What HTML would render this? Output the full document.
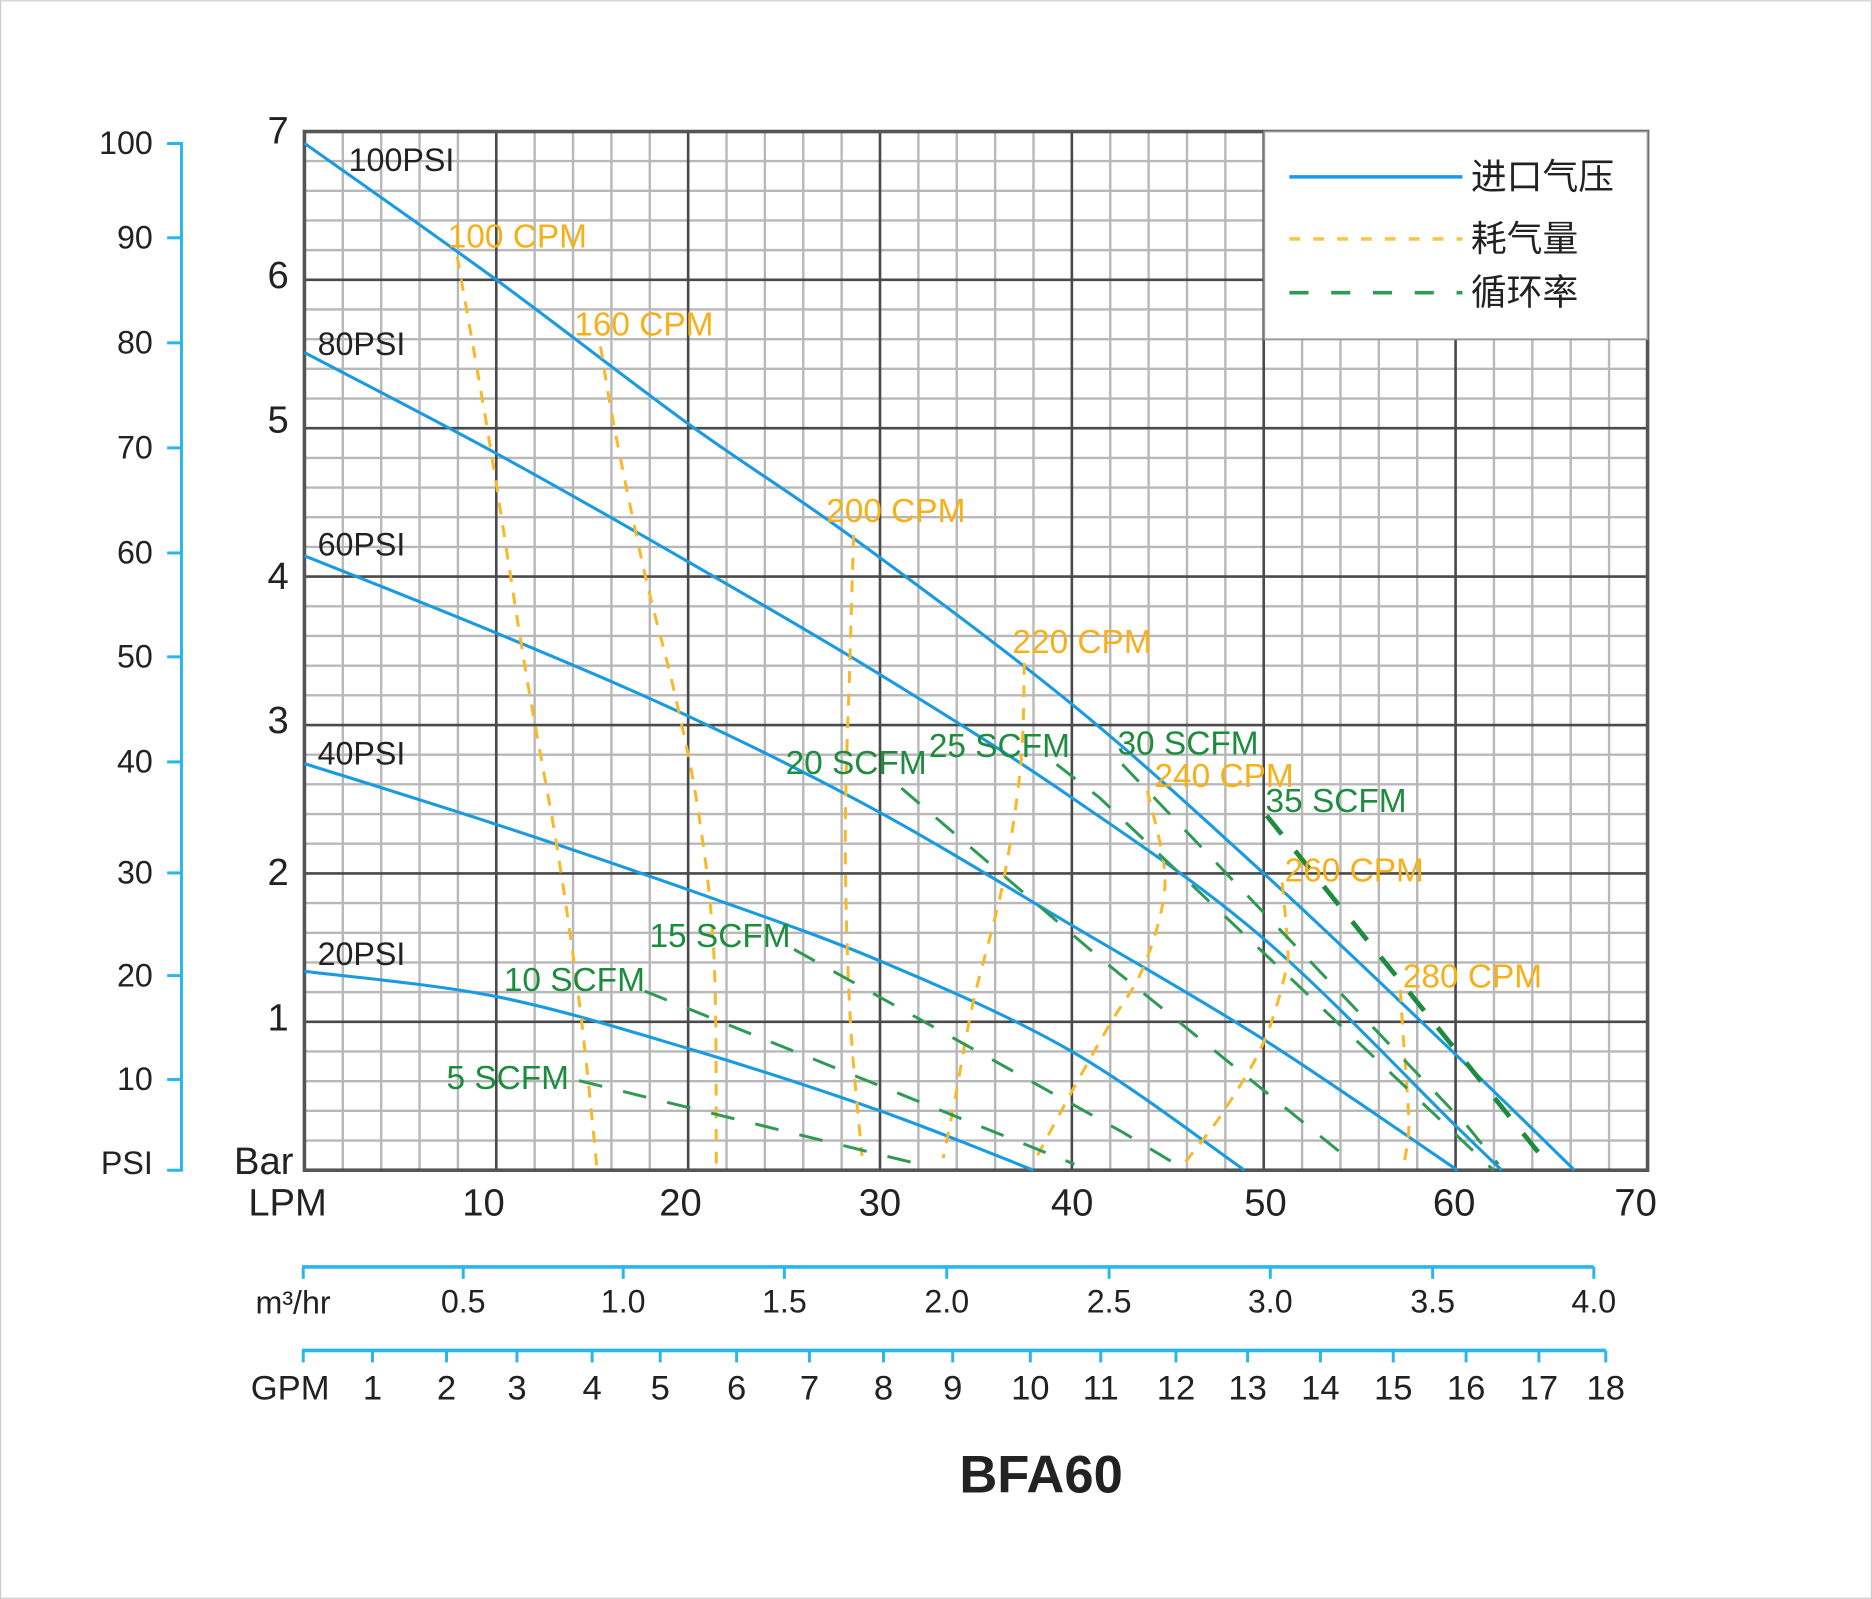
<!DOCTYPE html>
<html><head><meta charset="utf-8"><style>
html,body{margin:0;padding:0;background:#fff;}
svg{display:block;}
text{font-family:"Liberation Sans","Noto Sans CJK SC",sans-serif;}
</style></head><body>
<svg id="s" width="1872" height="1599" viewBox="0 0 1568 1339" xmlns="http://www.w3.org/2000/svg">
<rect x="0.5" y="0.5" width="1567" height="1338" fill="#fff" stroke="#ccc" stroke-width="1"/>
<g id="grid"></g>
<g id="curves" fill="none"></g>
<rect x="1059" y="110" width="321" height="174" fill="#fff" stroke="#999" stroke-width="1.5"/>
<line x1="1080" y1="148" x2="1225" y2="148" stroke="#1a9be0" stroke-width="3"/>
<line x1="1080" y1="200" x2="1225" y2="200" stroke="#f9c64a" stroke-width="3" stroke-dasharray="9,11"/>
<line x1="1080" y1="245" x2="1225" y2="245" stroke="#2e9a54" stroke-width="3" stroke-dasharray="16,19"/>
<g font-size="30" fill="#222">
<text x="1232" y="158">进口气压</text>
<text x="1232" y="210">耗气量</text>
<text x="1232" y="255">循环率</text>
</g>
<g id="labels"></g>
</svg>
<script>
var NS="http://www.w3.org/2000/svg";
function el(p,t,a,txt){var e=document.createElementNS(NS,t);for(var k in a)e.setAttribute(k,a[k]);if(txt!==undefined)e.textContent=txt;document.getElementById(p).appendChild(e);return e;}
var X0=255,XS=16.07,Y0=980,YS=124.3;
function X(l){return X0+l*XS}function Y(b){return Y0-b*YS}
// minor grid
for(var i=0;i<=35;i++){if(i%5)el('grid','line',{x1:X(i*2),y1:110,x2:X(i*2),y2:980,stroke:'#b8b8b8','stroke-width':2});}
for(var j=0;j<=35;j++){if(j%5)el('grid','line',{x1:255,y1:Y(j*0.2),x2:1380,y2:Y(j*0.2),stroke:'#b8b8b8','stroke-width':2});}
for(var i=1;i<7;i++)el('grid','line',{x1:X(i*10),y1:110,x2:X(i*10),y2:980,stroke:'#4a4a4a','stroke-width':2.2});
for(var j=1;j<7;j++)el('grid','line',{x1:255,y1:Y(j),x2:1380,y2:Y(j),stroke:'#4a4a4a','stroke-width':2.2});
el('grid','rect',{x:255,y:110,width:1125,height:870,fill:'none',stroke:'#555','stroke-width':3});
function pd(pts){return 'M'+pts.map(function(p){return p[0]+','+p[1]}).join(' L');}
function sm(pts){var s='M'+pts[0][0]+','+pts[0][1];for(var i=0;i<pts.length-1;i++){var p0=pts[i-1]||pts[i],p1=pts[i],p2=pts[i+1],p3=pts[i+2]||p2;s+=' C'+(p1[0]+(p2[0]-p0[0])/6)+','+(p1[1]+(p2[1]-p0[1])/6)+' '+(p2[0]-(p3[0]-p1[0])/6)+','+(p2[1]-(p3[1]-p1[1])/6)+' '+p2[0]+','+p2[1];}return s;}
function dc(a){return a.map(function(p){return [X(p[0]),Y(p[1])]})}
var blue=[
[[0,6.92],[10,6.0],[20,5.03],[28.6,4.26],[40,3.14],[50,2.0],[60,0.78],[66.2,0]],
[[0,5.51],[10,4.83],[20,4.1],[30,3.34],[40,2.51],[50,1.56],[60,0.3],[62.4,0]],
[[0,4.14],[10,3.62],[20,3.06],[30,2.41],[40,1.65],[50,0.88],[60.1,0]],
[[0,2.74],[10,2.33],[20,1.89],[30,1.41],[40,0.8],[49,0]],
[[0,1.34],[10,1.17],[20,0.82],[30,0.4],[38,0]]];
blue.forEach(function(b){el('curves','path',{d:sm(dc(b)),stroke:'#1a9be0','stroke-width':2.6});});
var org=[
[[383,215],[410,370],[440,560],[465,700],[480,800],[490,880],[500,978]],
[[503,290],[515,360],[540,480],[565,580],[585,680],[598,800],[600,978]],
[[715,448],[712,550],[708,700],[712,850],[722,968]],
[[858,555],[855,640],[840,740],[815,840],[800,920],[790,970]],
[[961,662],[975,725],[972,766],[955,816],[930,857],[900,910],[865,975]],
[[1074,739],[1078,786],[1077,813],[1058,874],[1024,932],[993,973]],
[[1173,829],[1175,863],[1178,904],[1180,945],[1176,975]]];
org.forEach(function(o){el('curves','path',{d:sm(o),stroke:'#f9b82a','stroke-width':2.5,'stroke-dasharray':'10,9'});});
var grn=[
[[485,905],[770,975]],
[[540,830],[900,975]],
[[665,795],[940,948],[985,975]],
[[755,660],[921,802],[1135,975]],
[[885,640],[921,668],[1251,980]],
[[940,640],[1229,943],[1255,975]]];
grn.forEach(function(g){el('curves','path',{d:pd(g),stroke:'#2e9a54','stroke-width':2.5,'stroke-dasharray':'20,18'});});
el('curves','path',{d:pd([[1061,683],[1295,973]]),stroke:'#1e8c3e','stroke-width':4,'stroke-dasharray':'20,18'});
// labels
var L='labels';
function T(x,y,s,c,fs,anc,fw){el(L,'text',{x:x,y:y,fill:c,'font-size':fs,'text-anchor':anc||'start','font-weight':fw||'normal'},s);}
[['100PSI',292,143],['80PSI',266,297],['60PSI',266,465],['40PSI',266,640],['20PSI',266,808]].forEach(function(a){T(a[1],a[2],a[0],'#222',27);});
var O='#f5b01a',G='#1e8c3e';
[['100 CPM',375,207],['160 CPM',481,281],['200 CPM',692,437],['220 CPM',848,547],['240 CPM',967,659],['260 CPM',1076,738],['280 CPM',1175,827]].forEach(function(a){T(a[1],a[2],a[0],O,28);});
[['5 SCFM',374,912],['10 SCFM',422,830],['15 SCFM',544,793],['20 SCFM',658,648],['25 SCFM',778,634],['30 SCFM',936,632],['35 SCFM',1060,680]].forEach(function(a){T(a[1],a[2],a[0],G,28);});
// bar labels
[[7,120],[6,241],[5,362],[4,493],[3,614],[2,741],[1,863]].forEach(function(a){T(233,a[1],String(a[0]),'#222',32,'middle');});
T(196,983,'Bar','#222',32);
T(208,1018,'LPM','#222',32);
[[10,405],[20,570],[30,737],[40,898],[50,1060],[60,1218],[70,1370]].forEach(function(a){T(a[1],1018,String(a[0]),'#222',32,'middle');});
// PSI axis
el(L,'path',{d:'M140,120 H152 V980 H140',fill:'none',stroke:'#29b6ef','stroke-width':2.5});
[[100,120],[90,199],[80,287],[70,375],[60,463],[50,550],[40,638],[30,731],[20,817],[10,904]].forEach(function(a){
el(L,'line',{x1:140,y1:a[1],x2:152,y2:a[1],stroke:'#29b6ef','stroke-width':2.5});T(128,a[1]+9,String(a[0]),'#222',27,'end');});
T(128,983,'PSI','#222',27,'end');
// m3/hr
el(L,'line',{x1:253,y1:1061,x2:1335,y2:1061,stroke:'#29b6ef','stroke-width':3});
el(L,'line',{x1:254,y1:1061,x2:254,y2:1071,stroke:'#29b6ef','stroke-width':2.5});
[['0.5',388],['1.0',522],['1.5',657],['2.0',793],['2.5',929],['3.0',1064],['3.5',1200],['4.0',1335]].forEach(function(a){
el(L,'line',{x1:a[1],y1:1061,x2:a[1],y2:1071,stroke:'#29b6ef','stroke-width':2.5});T(a[1],1099,a[0],'#222',27,'middle');});
T(214,1100,'m³/hr','#222',27);
// GPM
el(L,'line',{x1:253,y1:1131,x2:1345,y2:1131,stroke:'#29b6ef','stroke-width':3});
el(L,'line',{x1:254,y1:1131,x2:254,y2:1141,stroke:'#29b6ef','stroke-width':2.5});
[312,374,433,496,553,617,678,740,798,863,922,985,1045,1106,1167,1228,1289,1345].forEach(function(x,i){
el(L,'line',{x1:x,y1:1131,x2:x,y2:1141,stroke:'#29b6ef','stroke-width':2.5});T(x,1172,String(i+1),'#222',29,'middle');});
T(210,1172,'GPM','#222',29);
T(872,1250,'BFA60','#222',44,'middle','bold');
</script>
</body></html>
